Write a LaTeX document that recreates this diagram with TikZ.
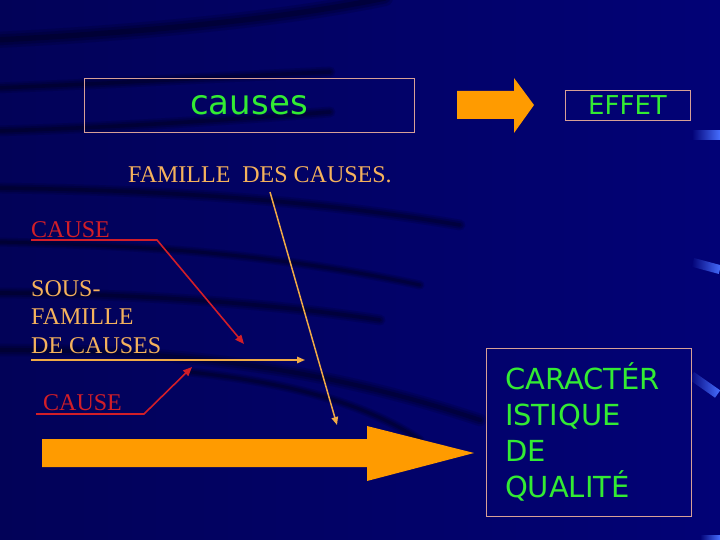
\documentclass[tikz,border=0pt]{standalone}
\usepackage{fontspec}
\setmainfont{Liberation Serif}
\newfontfamily\comicf{DejaVu Sans}
\usetikzlibrary{arrows.meta}
\definecolor{navyL}{RGB}{2,2,88}
\definecolor{navyR}{RGB}{2,2,118}
\definecolor{greentxt}{RGB}{51,235,51}
\definecolor{orangefill}{RGB}{255,155,0}
\definecolor{peachtxt}{RGB}{245,178,92}
\definecolor{peachline}{RGB}{240,170,70}
\definecolor{redtxt}{RGB}{210,30,40}
\definecolor{boxline}{RGB}{215,160,150}
\definecolor{streak}{RGB}{70,110,255}
\tikzset{
  boxnode/.style={draw=boxline, line width=0.9pt, inner sep=0pt},
  greenlabel/.style={text=greentxt, font=\comicf},
  serifpeach/.style={text=peachtxt, inner sep=0pt, font=\fontsize{24}{28.5}\selectfont},
  serifred/.style={text=redtxt, inner sep=0pt, font=\fontsize{24}{28.5}\selectfont},
  redline/.style={draw=redtxt, line width=1.6pt, -{Triangle[length=9pt,width=7.5pt]}},
  peachconn/.style={draw=peachline, line width=1.5pt, -{Triangle[length=8pt,width=6.5pt]}},
  fatarrow/.style={fill=orangefill, draw=none},
  darkband/.style={draw=black, line cap=round},
}
\newcommand{\softband}[2]{%
  \draw[darkband, line width=#1*1.8, opacity=0.12] #2;
  \draw[darkband, line width=#1*1.2, opacity=0.15] #2;
  \draw[darkband, line width=#1*0.6, opacity=0.2] #2;}
\begin{document}
\begin{tikzpicture}[x=1pt,y=-1pt]
% background
\shade[left color=navyL, right color=navyR] (0,0) rectangle (720,540);
\useasboundingbox (0,0) rectangle (720,540);
% dark decorative bands
\softband{9pt}{(-5,40) .. controls (120,34) and (280,20) .. (385,-2)}
\softband{6pt}{(-5,88) .. controls (100,84) and (200,78) .. (330,72)}
\softband{6pt}{(-5,131) .. controls (100,128) and (200,122) .. (330,112)}
\softband{6pt}{(-5,188) .. controls (150,190) and (300,198) .. (460,225)}
\softband{5pt}{(-5,242) .. controls (150,245) and (280,255) .. (420,285)}
\softband{6pt}{(-5,293) .. controls (100,293) and (250,300) .. (380,320)}
\softband{7pt}{(-5,350) .. controls (150,350) and (300,360) .. (480,420)}
\softband{5pt}{(190,372) .. controls (280,382) and (360,400) .. (420,440)}
% blue streaks right
\shade[left color=navyR, right color=streak] (692,131) rectangle (720,140);
\begin{scope}[shift={(694,258)}, rotate=-15]
\shade[left color=navyR, right color=streak] (0,0) rectangle (28,9);
\end{scope}
\begin{scope}[shift={(694,372)}, rotate=-35]
\shade[left color=navyR, right color=streak] (0,0) rectangle (32,9);
\end{scope}
\shade[left color=navyR, right color=streak] (700,535) rectangle (720,540);

% top row
\node[boxnode, minimum width=330pt, minimum height=54pt, greenlabel, font=\comicf\fontsize{34}{34}\selectfont] (causes) at (249,105) {causes};
\fill[fatarrow] (457,91) -- (514,91) -- (514,78) -- (534,105) -- (514,133) -- (514,119) -- (457,119) -- cycle;
\node[boxnode, minimum width=125pt, minimum height=30pt, greenlabel, font=\comicf\fontsize{26}{26}\selectfont] (effet) at (627.5,105) {EFFET};

% labels
\node[serifpeach, anchor=base west] (famille) at (128,183) {FAMILLE\ \ DES CAUSES.};
\node[serifred, anchor=base west] (cause1) at (31,237) {CAUSE};
\node[serifpeach, anchor=north west, align=left] (sousfam) at (31,280) {SOUS-\\FAMILLE\\DE CAUSES};
\node[serifred, anchor=base west] (cause2) at (43,410) {CAUSE};

% connector coordinates
\coordinate (r1a) at (31,240);
\coordinate (r1b) at (157,240);
\coordinate (r1c) at (244,344);
\coordinate (h1a) at (31,360);
\coordinate (h1b) at (305,360);
\coordinate (r2a) at (36,414);
\coordinate (r2b) at (144,414);
\coordinate (r2c) at (192,367);
\coordinate (fa) at (270,192);
\coordinate (fb) at (337,425);

\draw[redline] (r1a) -- (r1b) -- (r1c);
\draw[peachconn] (h1a) -- (h1b);
\draw[redline] (r2a) -- (r2b) -- (r2c);
\draw[peachconn] (fa) -- (fb);

% big arrow
\fill[fatarrow] (42,439) -- (367,439) -- (367,426) -- (474,453) -- (367,481) -- (367,467) -- (42,467) -- cycle;

% quality box
\node[boxnode, minimum width=205pt, minimum height=168pt, text width=167pt, inner xsep=19pt, align=left, greenlabel, font=\comicf\fontsize{29}{36}\selectfont] (qualite) at (588.5,432) {CARACTÉR\\ISTIQUE\\DE\\QUALITÉ};
\end{tikzpicture}
\end{document}
